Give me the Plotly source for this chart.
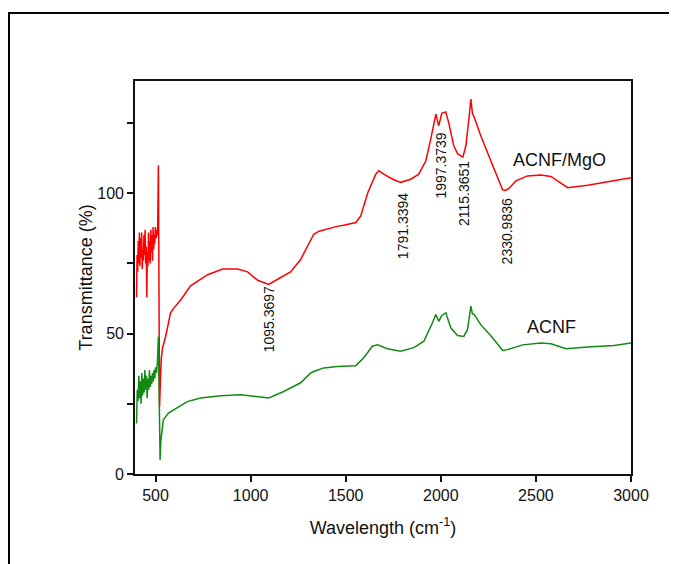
import plotly.graph_objects as go

# ACNF/MgO (red)
red_x = [400, 403, 406, 409, 412, 415, 418, 421, 424, 427, 430, 433, 436, 439, 442, 445, 448, 451, 454,
         457, 460, 463, 466, 469, 472, 475, 478, 481, 484, 487, 490, 493, 496, 499, 503, 507, 511, 515,
         518, 521, 525, 530, 537, 553, 579, 595, 632, 684, 774, 853, 932, 984, 1037, 1095, 1158, 1210,
         1263, 1300, 1332, 1360, 1384, 1410, 1437, 1460, 1489, 1520, 1553, 1579, 1616, 1658, 1674, 1700,
         1747, 1789, 1842, 1884, 1921, 1947, 1974, 1989, 2005, 2026, 2042, 2068, 2089, 2116, 2132, 2150,
         2158, 2166, 2176, 2210, 2263, 2298, 2325, 2340, 2358, 2395, 2456, 2526, 2579, 2621, 2667, 2772,
         2877, 3000]
red_y = [63, 78, 72, 83, 75, 86, 74, 84, 77, 86, 73, 80, 76, 85, 78, 87, 75, 81, 63,
         79, 74, 86, 76, 83, 75, 87, 79, 85, 76, 88, 80, 85, 82, 88, 84, 87, 85, 110,
         60, 24, 32, 41, 45, 49, 57.4, 59, 62, 67, 71, 73, 73, 72, 69, 67.5, 70, 72,
         76.4, 81.5, 85.4, 86.5, 86.9, 87.6, 87.9, 88.3, 88.6, 89.2, 89.6, 91.9, 100.2, 106.8, 108, 106.8,
         105, 103.9, 105, 106.8, 111.5, 119.3, 128.2, 124, 128.5, 129, 125, 116.9, 114, 112.9, 117, 128,
         133.6, 128.5, 127, 120.5, 112, 105.7, 101.2, 101, 101.7, 104.4, 106.2, 106.5, 106, 104, 102, 102.9,
         104, 105.5]

# ACNF (green)
green_x = [400, 404, 408, 412, 416, 420, 424, 428, 432, 436, 440, 444, 448, 452, 456, 460, 464, 468,
           472, 476, 480, 484, 488, 492, 496, 500, 505, 510, 515, 519, 524, 528, 535, 541, 568, 614,
           667, 737, 842, 947, 1035, 1095, 1174, 1246, 1263, 1316, 1332, 1384, 1456, 1553, 1595, 1640,
           1667, 1719, 1789, 1858, 1911, 1956, 1974, 1989, 2005, 2026, 2053, 2088, 2121, 2140, 2158,
           2166, 2176, 2210, 2272, 2325, 2351, 2430, 2526, 2579, 2658, 2772, 2911, 3000]
green_y = [18, 30, 26, 35, 27, 33, 25, 36, 28, 34, 29, 37, 30, 35, 27, 34, 30, 37,
           31, 35, 32, 36, 33, 37, 34, 38, 36, 40, 49, 25, 5, 12, 15.7, 19.3, 21.7, 23.6,
           25.8, 27.1, 27.9, 28.2, 27.5, 27.1, 29.4, 32, 32.5, 36, 36.5, 37.8, 38.3, 38.6, 41.4, 45.5,
           46, 44.6, 43.7, 45, 47.3, 53.9, 56.8, 54.4, 56.5, 57.4, 52, 49.3, 49, 51.4, 59.8,
           57, 56.8, 53.2, 48.5, 44, 44.3, 46, 46.7, 46.4, 44.6, 45.2, 45.8, 46.7]

# Peak labels
peak_labels = ["1095.3697", "1791.3394", "1997.3739", "2115.3651", "2330.9836"]
peak_lx = [1095, 1805, 2000, 2121, 2353]
peak_ly = [55, 88.2, 109.8, 100, 86.4]

series_names = ["ACNF/MgO", "ACNF"]
series_lx = [2626, 2584]
series_ly = [112, 52.5]

x_ticks = [500, 1000, 1500, 2000, 2500, 3000]
y_ticks = [0, 50, 100]

FONT = "Liberation Sans, Arial, sans-serif"

fig = go.Figure()
fig.add_trace(go.Scatter(x=red_x, y=red_y, mode="lines", name="ACNF/MgO",
                         line=dict(color="#ff0000", width=1.5)))
fig.add_trace(go.Scatter(x=green_x, y=green_y, mode="lines", name="ACNF",
                         line=dict(color="#138a13", width=1.5)))

annotations = []
for t, x, y in zip(peak_labels, peak_lx, peak_ly):
    annotations.append(dict(x=x, y=y, xref="x", yref="y", text=t, textangle=-90,
                            showarrow=False, font=dict(family=FONT, size=14, color="#111")))
for t, x, y in zip(series_names, series_lx, series_ly):
    annotations.append(dict(x=x, y=y, xref="x", yref="y", text=t, showarrow=False,
                            font=dict(family=FONT, size=18, color="#111")))

OFF = 8  # page body margin
W, H = 677, 564
L, R, T, B = 135 - OFF, 46 + OFF, 81 - OFF, 90 + OFF
pw, ph = W - L - R, H - T - B
fx = (9 - OFF - L) / pw
fy = (H - B - (13 - OFF)) / ph

fig.update_layout(
    width=W, height=H,
    margin=dict(l=L, r=R, t=T, b=B),
    paper_bgcolor="white", plot_bgcolor="white",
    showlegend=False,
    font=dict(family=FONT, size=16, color="#111"),
    annotations=annotations,
    shapes=[dict(type="path", xref="paper", yref="paper",
                 path=f"M {fx} -1 L {fx} {fy} L 1.5 {fy}",
                 line=dict(color="black", width=2))],
)
fig.update_xaxes(range=[392, 3000], tickvals=x_ticks, ticks="outside", ticklen=6,
                 tickwidth=1.5, tickcolor="#111", showline=True, linecolor="#111", linewidth=1.6,
                 mirror=True, showgrid=False, zeroline=False,
                 tickfont=dict(family=FONT, size=16),
                 title=dict(text="Wavelength (cm<sup>-1</sup>)", font=dict(family=FONT, size=18),
                            standoff=18))
fig.update_yaxes(range=[0, 140], tickvals=y_ticks, ticks="outside", ticklen=6,
                 tickwidth=1.5, tickcolor="#111", showline=True, linecolor="#111", linewidth=1.6,
                 mirror=True, showgrid=False, zeroline=False,
                 minor=dict(tickvals=[25, 75, 125], ticks="outside", ticklen=6, tickwidth=1.5,
                            tickcolor="#111"),
                 tickfont=dict(family=FONT, size=16),
                 title=dict(text="Transmittance (%)", font=dict(family=FONT, size=18), standoff=0))

fig.write_html("out.html")
